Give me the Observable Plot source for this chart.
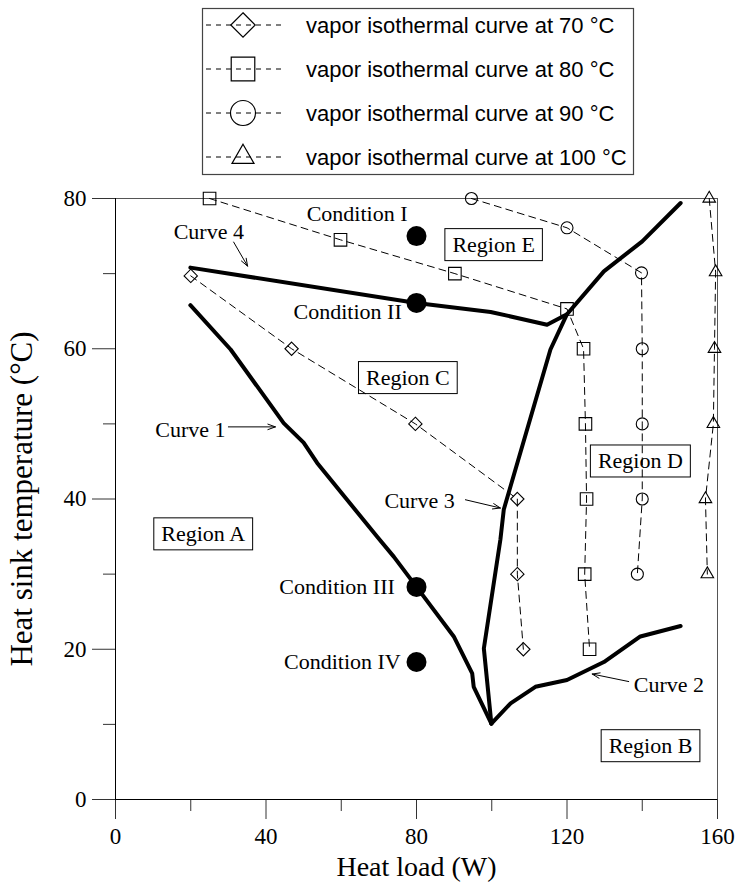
<!DOCTYPE html>
<html>
<head>
<meta charset="utf-8">
<script src="https://cdn.jsdelivr.net/npm/d3@7"></script>
<script src="https://cdn.jsdelivr.net/npm/@observablehq/plot@0.6"></script>
<style>
  body { margin: 0; background: #fff; }
  #legend, #chart { display: block; }
  svg { display: block; }
</style>
</head>
<body>
<div id="legend"></div>
<div id="chart"></div>
<script>
// ---- Data ----
const xMajorTicks = [0, 40, 80, 120, 160];
const xMinorTicks = [20, 60, 100, 140];
const yMajorTicks = [0, 20, 40, 60, 80];
const yMinorTicks = [10, 30, 50, 70];

const iso70 = [[20,69.7],[46.8,60],[79.7,50],[106.8,40],[106.8,30],[108.4,20]];
const iso80 = [[25,80],[59.8,74.5],[90.2,70],[120,65.3],[124.4,60],[124.9,50],[125.2,40],[124.7,30],[126,20]];
const iso90 = [[94.6,80],[120,76.1],[139.8,70.1],[140,60],[140,50],[140,40],[138.7,30]];
const iso100 = [[157.8,80],[159.5,70.2],[159.2,60],[158.9,50],[156.8,40],[157.3,30]];

const curve1 = [[19.9,65.8],[30.6,59.9],[44.7,50.1],[50,47.5],[53.6,44.8],[69.5,35],[74,32.3],[80,28.3],[89.9,21.7],[94.8,16.8],[95.2,15],[99.9,10.1]];
const curve2 = [[99.9,10.1],[105,12.8],[111.6,15],[120,15.9],[129.8,18.3],[139.5,21.7],[150.2,23.1]];
const curve3 = [[99.9,10.1],[97.9,20.1],[102.3,34.6],[103.2,38.6],[105,41.7],[115.6,59.9],[120,64.6],[129.8,70.3],[140,74.3],[150.2,79.4]];
const curve4 = [[19.9,70.8],[80,66.1],[99.7,64.9],[114.7,63.2],[120,64.6]];

const conditions = [[80,75],[80,66.1],[80,28.3],[80,18.3]];
const conditionLabels = [["Condition I",64.2,77.9],["Condition II",61.7,64.9],["Condition III",58.9,28.3],["Condition IV",60.3,18.3]];
const curveLabels = [["Curve 4",24.8,75.5],["Curve 1",19.9,49.2],["Curve 3",80.8,39.8],["Curve 2",147.1,15.2]];
const curveArrows = [[31.4,74.2,35.1,71.0],[30.0,49.6,42.5,49.6],[93.0,39.9,102.3,38.8],[136.4,15.7,126.7,16.7]];
const regionLabels = [["Region E",100.5,73.8],["Region C",77.7,56.1],["Region D",139.5,45],["Region A",23.3,35.3],["Region B",142.2,7.1]];

const legendItems = ["vapor isothermal curve at 70 °C","vapor isothermal curve at 80 °C","vapor isothermal curve at 90 °C","vapor isothermal curve at 100 °C"];
const legendSymbols = ["diamond2","square2","circle","triangle2"];

// ---- helpers ----
const pts = a => a.map(([x, y]) => ({x, y}));
const labs = a => a.map(([label, x, y]) => ({label, x, y}));
const serif = "'Liberation Serif', 'Times New Roman', Times, serif";
const sans = "'Liberation Sans', Arial, Helvetica, sans-serif";

// ---- Legend (above the chart) ----
const symbolTypes = {diamond2: d3.symbolDiamond2, square2: d3.symbolSquare2, circle: d3.symbolCircle, triangle2: d3.symbolTriangle2};
const legendR = {diamond2: 11, square2: 15, circle: 12.5, triangle2: 10.5};
const lg = d3.create("svg").attr("width", 738).attr("height", 180);
lg.append("rect").attr("x", 202.5).attr("y", 8.5).attr("width", 431).attr("height", 166)
  .attr("fill", "none").attr("stroke", "#444").attr("stroke-width", 1.2);
legendItems.forEach((t, i) => {
  const cy = 25 + i * 44;
  const g = lg.append("g");
  g.append("line").attr("x1", 206).attr("x2", 281).attr("y1", cy).attr("y2", cy)
    .attr("stroke", "#000").attr("stroke-width", 1).attr("stroke-dasharray", "5,5");
  const s = legendSymbols[i];
  g.append("path").attr("transform", `translate(243,${cy})`)
    .attr("d", d3.symbol(symbolTypes[s], Math.PI * legendR[s] ** 2)())
    .attr("fill", "none").attr("stroke", "#000").attr("stroke-width", 1.2);
  g.append("text").attr("x", 306).attr("y", cy).attr("dy", "0.35em")
    .attr("font-family", sans).attr("font-size", 22).attr("fill", "#000").text(t);
});
document.getElementById("legend").appendChild(lg.node());

// ---- Chart ----
const isoSeries = [
  {data: pts(iso70), symbol: "diamond2", r: 6},
  {data: pts(iso80), symbol: "square2", r: 8},
  {data: pts(iso90), symbol: "circle", r: 6},
  {data: pts(iso100), symbol: "triangle2", r: 6}
];

const chart = Plot.plot({
  width: 738,
  height: 707,
  marginTop: 18,
  marginBottom: 88,
  marginLeft: 115,
  marginRight: 21,
  x: {domain: [0, 160], label: null},
  y: {domain: [0, 80], label: null},
  style: {fontFamily: serif, fontSize: "23px", color: "#000", background: "#fff"},
  marks: [
    Plot.frame({stroke: "#555", strokeWidth: 1}),
    Plot.axisX(xMajorTicks, {tickSize: 20, tickPadding: 8, label: null, fontSize: 23, stroke: "#333"}),
    Plot.axisX(xMinorTicks, {tickSize: 12, tickFormat: () => "", label: null, stroke: "#333"}),
    Plot.axisY(yMajorTicks, {tickSize: 23, tickPadding: 6, label: null, fontSize: 23, stroke: "#333"}),
    Plot.axisY(yMinorTicks, {tickSize: 12, tickFormat: () => "", label: null, stroke: "#333"}),
    Plot.ruleX([0], {stroke: "#000"}),
    Plot.ruleY([0], {stroke: "#000"}),
    ...isoSeries.map(s => Plot.line(s.data, {x: "x", y: "y", stroke: "#000", strokeWidth: 1, strokeDasharray: "7,5"})),
    ...isoSeries.map(s => Plot.dot(s.data, {x: "x", y: "y", symbol: () => s.symbol, r: s.r, stroke: "#000", strokeWidth: 1.1, fill: "none"})),
    Plot.line(pts(curve1), {x: "x", y: "y", stroke: "#000", strokeWidth: 4, strokeLinejoin: "round"}),
    Plot.line(pts(curve2), {x: "x", y: "y", stroke: "#000", strokeWidth: 4, strokeLinejoin: "round"}),
    Plot.line(pts(curve3), {x: "x", y: "y", stroke: "#000", strokeWidth: 4, strokeLinejoin: "round"}),
    Plot.line(pts(curve4), {x: "x", y: "y", stroke: "#000", strokeWidth: 4, strokeLinejoin: "round"}),
    Plot.dot(pts(conditions), {x: "x", y: "y", r: 10, fill: "#000"}),
    Plot.text(labs(conditionLabels), {x: "x", y: "y", text: "label", fontSize: 22, fill: "#000"}),
    Plot.text(labs(curveLabels), {x: "x", y: "y", text: "label", fontSize: 22, fill: "#000"}),
    Plot.arrow(curveArrows.map(([x1, y1, x2, y2]) => ({x1, y1, x2, y2})), {x1: "x1", y1: "y1", x2: "x2", y2: "y2", stroke: "#000", strokeWidth: 1, headLength: 12, headAngle: 40}),
    Plot.text(labs(regionLabels), {x: "x", y: "y", text: "label", fontSize: 22, fill: "#000"}),
    Plot.text(["Heat load (W)"], {text: d => d, frameAnchor: "bottom", textAnchor: "middle", lineAnchor: "middle", dy: 68, fontSize: 28, fill: "#000"}),
    Plot.text(["Heat sink temperature (°C)"], {text: d => d, frameAnchor: "left", textAnchor: "middle", lineAnchor: "middle", dx: -93, rotate: -90, fontSize: 31, fill: "#000"})
  ]
});
document.getElementById("chart").appendChild(chart);

// boxes around region labels
d3.select(chart).selectAll("text")
  .filter(function () { return this.textContent.startsWith("Region"); })
  .each(function () {
    const b = this.getBBox();
    const padX = 7.5, padY = 3.5;
    const rect = document.createElementNS("http://www.w3.org/2000/svg", "rect");
    rect.setAttribute("x", b.x - padX);
    rect.setAttribute("y", b.y - padY);
    rect.setAttribute("width", b.width + 2 * padX);
    rect.setAttribute("height", b.height + 2 * padY);
    rect.setAttribute("fill", "none");
    rect.setAttribute("stroke", "#000");
    rect.setAttribute("stroke-width", 1);
    const tr = this.getAttribute("transform");
    if (tr) rect.setAttribute("transform", tr);
    this.parentNode.insertBefore(rect, this);
  });
</script>
</body>
</html>
